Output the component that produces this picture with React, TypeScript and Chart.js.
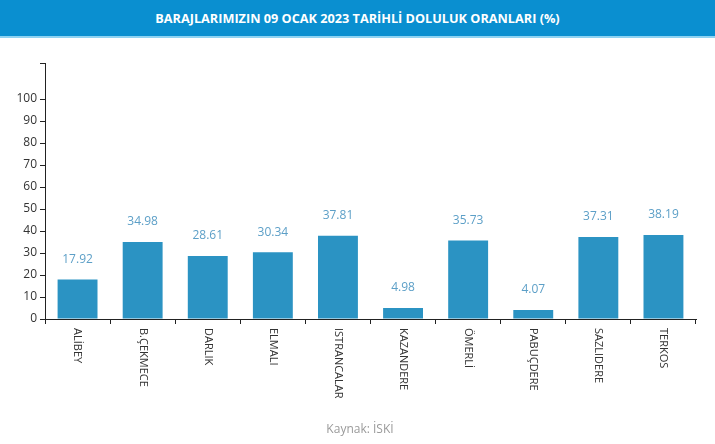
import React, { useEffect, useRef } from "react";
import { Chart, registerables } from "chart.js";

Chart.register(...registerables);

const title = "BARAJLARIMIZIN 09 OCAK 2023 TARİHLİ DOLULUK ORANLARI (%)";
const source = "Kaynak: İSKİ";
const categories = ["ALİBEY", "B.ÇEKMECE", "DARLIK", "ELMALI", "ISTRANCALAR", "KAZANDERE", "ÖMERLİ", "PABUÇDERE", "SAZLIDERE", "TERKOS"];
const values = [17.92, 34.98, 28.61, 30.34, 37.81, 4.98, 35.73, 4.07, 37.31, 38.19];
const yTicks = [0, 10, 20, 30, 40, 50, 60, 70, 80, 90, 100];
const yMax = 116.4;

const FONT = "'Open Sans', 'Noto Sans', sans-serif";

export default function App() {
  const ref = useRef<HTMLCanvasElement | null>(null);

  useEffect(() => {
    document.body.style.margin = "0";
    const canvas = ref.current!;
    const labelPlugin = {
      id: "customLabels",
      afterDraw(chart: any) {
        const ctx = chart.ctx;
        const xs = chart.scales.x;
        const meta = chart.getDatasetMeta(0);
        ctx.save();
        // value labels
        ctx.font = `12px ${FONT}`;
        ctx.fillStyle = "#5c9fc7";
        ctx.textAlign = "center";
        ctx.textBaseline = "middle";
        meta.data.forEach((bar: any, i: number) => {
          ctx.fillText(values[i].toFixed(2), bar.x, bar.y - 20);
        });
        // rotated category labels
        ctx.fillStyle = "#333";
        ctx.font = `11px ${FONT}`;
        ctx.textAlign = "left";
        ctx.textBaseline = "middle";
        categories.forEach((c, i) => {
          const x = xs.getPixelForTick(i);
          ctx.save();
          ctx.translate(x, chart.chartArea.bottom + 9);
          ctx.rotate(Math.PI / 2);
          ctx.fillText(c, 0, 0);
          ctx.restore();
        });
        // source
        ctx.fillStyle = "#9a9a9a";
        ctx.font = `12px ${FONT}`;
        ctx.textAlign = "center";
        ctx.fillText(source, 360, 430);
        ctx.restore();
      },
    };

    const chart = new Chart(canvas, {
      type: "bar",
      data: {
        labels: categories,
        datasets: [
          {
            data: values,
            backgroundColor: "#2b93c3",
            borderWidth: 0,
            barPercentage: 1,
            categoryPercentage: 0.613,
          },
        ],
      },
      options: {
        animation: false,
        responsive: false,
        maintainAspectRatio: false,
        layout: { padding: { top: 63, right: 19, bottom: 0, left: 0 } },
        plugins: { legend: { display: false }, tooltip: { enabled: false }, title: { display: false } },
        scales: {
          x: {
            type: "category",
            offset: true,
            grid: { display: true, drawOnChartArea: false, offset: true, tickLength: 5, color: "#222", lineWidth: 1 },
            border: { display: true, color: "#222", width: 1 },
            ticks: { display: false },
            afterFit: (s: any) => { s.height = 125; },
          },
          y: {
            min: 0,
            max: yMax,
            afterBuildTicks: (s: any) => {
              s.ticks = [...yTicks, yMax].map((v) => ({ value: v }));
            },
            grid: { display: true, drawOnChartArea: false, tickLength: 5, color: "#222", lineWidth: 1 },
            border: { display: true, color: "#222", width: 1 },
            ticks: {
              color: "#333",
              font: { family: FONT, size: 12 },
              padding: 3,
              callback: (v: any) => (v > 100 ? "" : String(v)),
            },
            afterFit: (s: any) => { s.width = 45; },
          },
        },
      },
      plugins: [labelPlugin],
    });
    return () => chart.destroy();
  }, []);

  return (
    <div style={{ position: "relative", width: 715, height: 444, background: "#fff", overflow: "hidden" }}>
      <canvas ref={ref} width={715} height={444} style={{ position: "absolute", left: 0, top: 0 }} />
      <div
        style={{
          position: "absolute",
          left: 0,
          top: 0,
          width: 715,
          height: 36,
          background: "#0a8fd0",
          borderBottom: "2px solid #8fd3f2",
          color: "#fff",
          fontFamily: FONT,
          fontWeight: 700,
          fontSize: 12.7,
          lineHeight: "36px",
          textAlign: "center",
        }}
      >
        {title}
      </div>
    </div>
  );
}
